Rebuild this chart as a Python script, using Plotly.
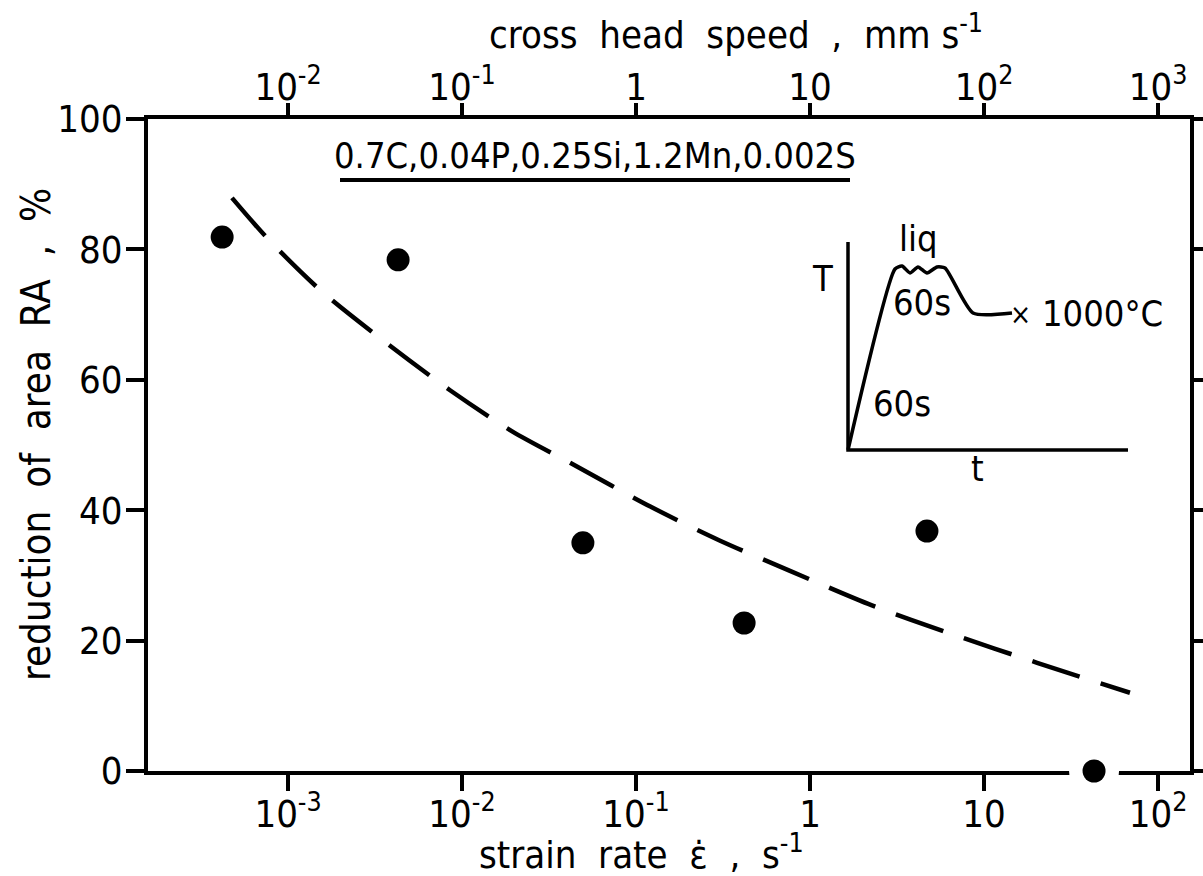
import plotly.graph_objects as go

# ---------------- data ----------------
dot_rate = [4.18e-4, 4.29e-3, 0.0495, 0.418, 4.70, 42.9]      # strain rate, s^-1
dot_RA = [81.9, 78.4, 35.0, 22.7, 36.8, 0.0]                  # reduction of area, %

curve_rate = [4.76e-4, 7.67e-4, 1.57e-3, 3.61e-3, 8.53e-3, 1.94e-2, 4.23e-2,
              0.120, 0.300, 0.767, 2.27, 6.38, 20.2, 69.0]
curve_RA = [87.9, 81.6, 73.5, 65.8, 58.4, 52.1, 47.2,
            40.6, 35.4, 30.7, 25.4, 21.1, 16.6, 12.0]

bottom_ticks = [1e-3, 1e-2, 1e-1, 1, 10, 100]
bottom_text = ["10<sup>-3</sup>", "10<sup>-2</sup>", "10<sup>-1</sup>", "1", "10", "10<sup>2</sup>"]
top_ticks = [1e-2, 1e-1, 1, 10, 100, 1000]
top_text = ["10<sup>-2</sup>", "10<sup>-1</sup>", "1", "10", "10<sup>2</sup>", "10<sup>3</sup>"]
y_ticks = [0, 20, 40, 60, 80, 100]

composition = "0.7C,0.04P,0.25Si,1.2Mn,0.002S"

# inset schematic: thermal schedule (schematic units)
sched_t = [0, 47, 54, 62, 70, 79, 89, 97, 125, 164]
sched_T = [0, 181, 184, 177, 183, 177, 183, 182, 137, 137]
inset_axis_t = [0, 0, 280]
inset_axis_T = [208, 0, 0]

# ---------------- geometry ----------------
W, H = 1203, 876
L, R, T, B = 148, 1190, 119, 771
PW, PH = R - L, B - T

def px(xp):
    return (xp - L) / PW

def py(yp):
    return (B - yp) / PH

FONT = "DejaVu Sans Condensed, Liberation Sans Narrow, sans-serif"
FS = 36
TFS = 38

fig = go.Figure()

# dashed trend curve
fig.add_trace(go.Scatter(
    x=curve_rate, y=curve_RA, mode="lines",
    line=dict(color="black", width=4.5, dash="50px,22px", shape="spline", smoothing=0.8),
    hoverinfo="skip", showlegend=False))

# data points (white halo to break the axis line)
fig.add_trace(go.Scatter(
    x=dot_rate, y=dot_RA, mode="markers",
    marker=dict(color="black", size=23, line=dict(color="white", width=27)),
    cliponaxis=False, showlegend=False, hoverinfo="skip"))
fig.add_trace(go.Scatter(
    x=dot_rate, y=dot_RA, mode="markers",
    marker=dict(color="black", size=23),
    cliponaxis=False, showlegend=False))

# inset schematic
fig.add_trace(go.Scatter(
    x=inset_axis_t, y=inset_axis_T, xaxis="x3", yaxis="y3", mode="lines",
    line=dict(color="black", width=3.5), showlegend=False, hoverinfo="skip"))
fig.add_trace(go.Scatter(
    x=sched_t, y=sched_T, xaxis="x3", yaxis="y3", mode="lines",
    line=dict(color="black", width=3.5, shape="spline", smoothing=0.6),
    showlegend=False, hoverinfo="skip"))

# dummy traces so the secondary axes render
fig.add_trace(go.Scatter(x=[1], y=[None], xaxis="x2", yaxis="y", mode="markers",
                         showlegend=False, hoverinfo="skip"))
fig.add_trace(go.Scatter(x=[1], y=[None], xaxis="x", yaxis="y2", mode="markers",
                         showlegend=False, hoverinfo="skip"))

axis_common = dict(showgrid=False, zeroline=False, showline=True, linecolor="black",
                   linewidth=4, ticks="outside", tickwidth=4, tickcolor="black",
                   automargin=False, layer="below traces",
                   tickfont=dict(family=FONT, size=TFS, color="black"))

# inset axes in schematic units; 1 unit = 1 px with origin at pixel (848, 450)
ox, oy = 848, 450
ix0, ix1 = -40, 320
iy0, iy1 = -30, 230

fig.update_layout(
    width=W, height=H,
    margin=dict(l=L, r=W - R, t=T, b=H - B, pad=0, autoexpand=False),
    paper_bgcolor="white", plot_bgcolor="white",
    font=dict(family=FONT, size=FS, color="black"),
    xaxis=dict(type="log", range=[-3.805, 2.184], tickvals=bottom_ticks, ticktext=bottom_text,
               ticklen=16, ticklabelstandoff=-10, **axis_common),
    xaxis2=dict(type="log", range=[-2.805, 3.184], overlaying="x", side="top",
                tickvals=top_ticks, ticktext=top_text, ticklen=12, ticklabelstandoff=-12,
                **axis_common),
    yaxis=dict(range=[0, 100], tickvals=y_ticks, ticklen=18, mirror=True,
               ticklabelstandoff=-4, **axis_common),
    yaxis2=dict(range=[0, 100], tickvals=y_ticks, overlaying="y", side="right",
                showline=False, showgrid=False, zeroline=False, ticks="outside",
                ticklen=14, tickwidth=4, tickcolor="black", showticklabels=False,
                automargin=False, layer="below traces"),
    xaxis3=dict(domain=[px(ox + ix0), px(ox + ix1)], range=[ix0, ix1], visible=False,
                anchor="y3"),
    yaxis3=dict(domain=[py(oy - iy0), py(oy - iy1)], range=[iy0, iy1], visible=False,
                anchor="x3"),
)

ann = []
ann.append(dict(text="reduction  of  area  RA  ,  %", textangle=-90, xref="paper", yref="paper",
                x=px(36), y=py(435), xanchor="center", yanchor="middle", showarrow=False,
                font=dict(family=FONT, size=40)))
ann.append(dict(text="strain  rate  ε̇  ,  s<sup>-1</sup>", xref="paper", yref="paper",
                x=px(641), y=py(852), xanchor="center", yanchor="middle", showarrow=False,
                font=dict(family=FONT, size=38)))
ann.append(dict(text="cross  head  speed  ,  mm s<sup>-1</sup>", xref="paper", yref="paper",
                x=px(736), y=py(32), xanchor="center", yanchor="middle", showarrow=False,
                font=dict(family=FONT, size=38)))
ann.append(dict(text=composition, xref="paper", yref="paper",
                x=px(595), y=py(155), xanchor="center", yanchor="middle", showarrow=False,
                font=dict(family=FONT, size=FS)))

# inset labels (schematic units)
inset_labels = [
    ("T", -26, 172, "center", FS),
    ("liq", 70, 212, "center", FS),
    ("60s", 74, 148, "center", FS),
    ("60s", 54, 47, "center", FS),
    ("t", 129, -18, "center", FS),
    ("×", 172, 136, "center", 28),
    ("1000°C", 192, 137, "left", FS),
]
for txt, xx, yy, anc, fs in inset_labels:
    ann.append(dict(text=txt, xref="x3", yref="y3", x=xx, y=yy, xanchor=anc,
                    yanchor="middle", showarrow=False, font=dict(family=FONT, size=fs)))

fig.update_layout(annotations=ann)

# underline of composition text
fig.add_shape(type="line", xref="paper", yref="paper", x0=px(340), x1=px(850),
              y0=py(180), y1=py(180), line=dict(color="black", width=4))

fig.write_html("out.html")
